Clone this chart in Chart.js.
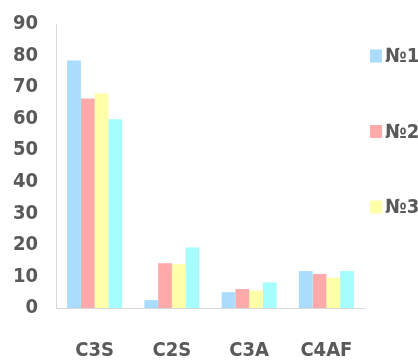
<!DOCTYPE html>
<html>
<head>
<meta charset="utf-8">
<script src="https://cdn.jsdelivr.net/npm/chart.js@4"></script>
<style>
  html, body { margin: 0; padding: 0; background: #ffffff; }
  #wrap { width: 418px; height: 361px; position: relative; }
</style>
</head>
<body>
<div id="wrap"><canvas id="chart"></canvas></div>
<script>
// Clinker phase content per sample
const categories = ['C3S', 'C2S', 'C3A', 'C4AF'];
const seriesNames = ['№1', '№2', '№3', ''];
const sample1 = [78.4, 2.5, 5.0, 11.7];
const sample2 = [66.4, 14.2, 6.0, 10.8];
const sample3 = [68.0, 13.9, 5.5, 9.6];
const sample4 = [59.8, 19.2, 8.1, 11.7];
const yTicks = [0, 10, 20, 30, 40, 50, 60, 70, 80, 90];

const seriesValues = [sample1, sample2, sample3, sample4];
const seriesColors = ['#aadcfd', '#ffaaaa', '#ffffaa', '#a6fdfd'];
const FONT = '"Liberation Sans Narrow", "DejaVu Sans Condensed", "Arial Narrow", sans-serif';
const TEXT = '#5a5a5a';

// Legend drawn to the right of the plot, one entry per labelled series
const sideLegend = {
  id: 'sideLegend',
  afterDraw(chart) {
    const { ctx, chartArea } = chart;
    ctx.save();
    ctx.font = 'bold 20px ' + FONT;
    ctx.textBaseline = 'middle';
    ctx.textAlign = 'left';
    chart.data.datasets.forEach((ds, i) => {
      if (!ds.label) return;
      const cy = chartArea.top + 32 + i * 75.5;
      ctx.fillStyle = ds.backgroundColor;
      ctx.fillRect(chartArea.right + 5, cy - 6.5, 12, 13);
      ctx.fillStyle = TEXT;
      ctx.fillText(ds.label, chartArea.right + 20, cy + 1);
    });
    ctx.restore();
  }
};

new Chart(document.getElementById('chart'), {
  type: 'bar',
  data: {
    labels: categories,
    datasets: seriesValues.map((vals, i) => ({
      label: seriesNames[i],
      data: vals,
      backgroundColor: seriesColors[i],
      borderWidth: 0,
      categoryPercentage: 0.712,
      barPercentage: 1.0
    }))
  },
  options: {
    responsive: true,
    maintainAspectRatio: false,
    animation: false,
    layout: { padding: { top: 0, right: 53, bottom: 0, left: 0 } },
    plugins: {
      legend: { display: false },
      tooltip: { enabled: false }
    },
    scales: {
      x: {
        grid: { display: false, drawTicks: false },
        border: { display: true, color: '#d9d9d9', width: 1 },
        ticks: {
          color: TEXT,
          font: { family: FONT, size: 20, weight: 'bold' },
          padding: 31,
          maxRotation: 0
        },
        afterFit(scale) { scale.height = 53; }
      },
      y: {
        min: 0,
        max: 90,
        afterBuildTicks(scale) { scale.ticks = yTicks.map(v => ({ value: v })); },
        grid: { display: false, drawTicks: false },
        border: { display: true, color: '#d9d9d9', width: 1 },
        ticks: {
          color: TEXT,
          font: { family: FONT, size: 20, weight: 'bold' },
          padding: 18
        },
        afterFit(scale) { scale.width = 56; scale.paddingTop = 24; }
      }
    }
  },
  plugins: [sideLegend]
});
</script>
</body>
</html>
